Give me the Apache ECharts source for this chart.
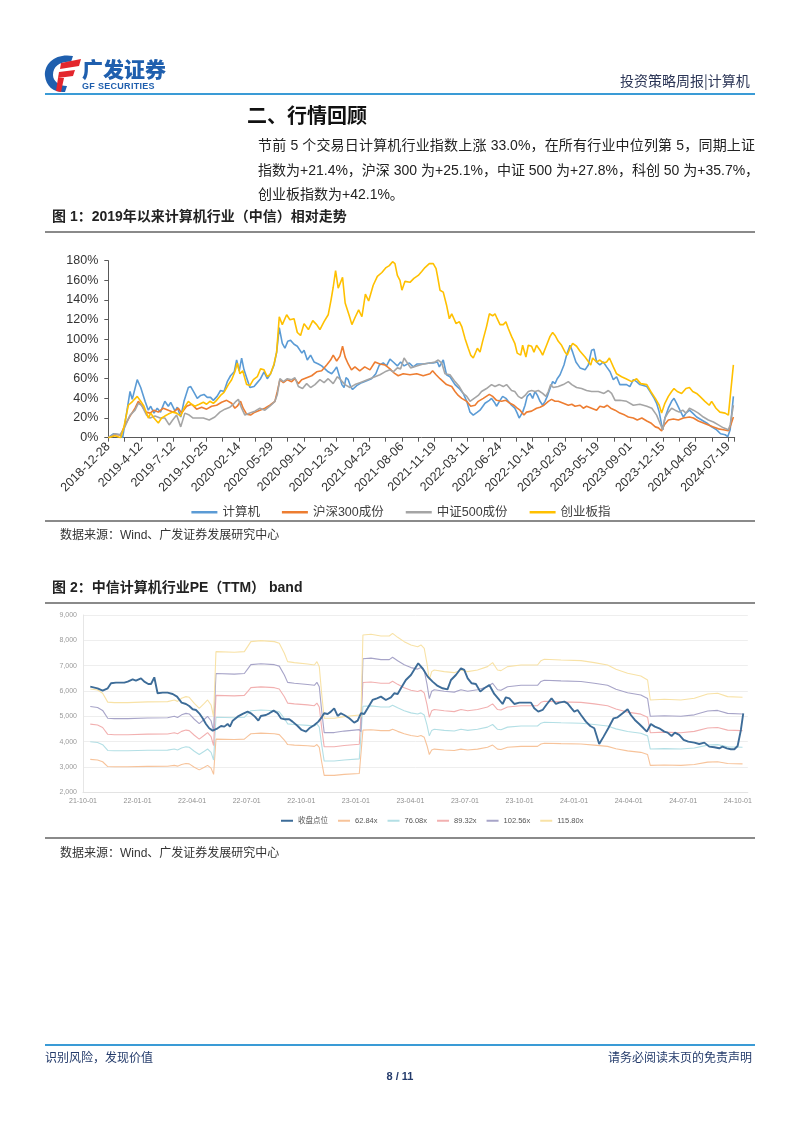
<!DOCTYPE html>
<html>
<head>
<meta charset="utf-8">
<script src="https://cdn.jsdelivr.net/npm/echarts@6/dist/echarts.min.js"></script>
<style>
  html, body { margin: 0; padding: 0; background: #fff; }
  #page { position: relative; width: 802px; height: 1133px; overflow: hidden; font-family: "Liberation Sans", "Noto Sans CJK SC", sans-serif; }
  #chart { position: absolute; left: 0; top: 0; width: 802px; height: 1133px; }
  .t { position: absolute; white-space: nowrap; z-index: 2; }
  .hr { position: absolute; z-index: 2; }
  .just { text-align: justify; text-align-last: justify; }
</style>
</head>
<body>
<div id="page">
  <div id="chart"></div>

  <!-- header -->
  <svg class="t" style="left:0;top:0" width="802" height="100">
    <path d="M73,56 C56,53 44,63 45,76 C46,87 55,93 65,92 L67,86 C59,86 53,81 53,75 C53,66 61,61 71,62 Z" fill="#1f5fae"/>
    <path d="M61,63 L81,59 L79,66 L60,69 Z" fill="#e3262d"/>
    <path d="M59,72 L75,70 L73,76 L58,78 Z" fill="#e3262d"/>
    <path d="M58,78 L64,78 L61,92 L56,91 Z" fill="#e3262d"/>
  </svg>
  <div class="t" style="left:82px;top:53px;font-size:21px;font-weight:900;color:#1f5fae;font-family:'Noto Sans CJK SC';">广发证券</div>
  <div class="t" style="left:82px;top:81px;font-size:9px;font-weight:700;color:#1f5fae;letter-spacing:0.3px;">GF SECURITIES</div>
  <div class="t" style="left:620px;top:70px;font-size:14px;color:#2b3556;font-family:'Noto Sans CJK SC';">投资策略周报|计算机</div>
  <div class="hr" style="left:45px;top:93px;width:710px;height:2px;background:#3a9bd6;"></div>

  <div class="t" style="left:247px;top:100px;font-size:20px;font-weight:700;color:#111;font-family:'Noto Sans CJK SC';">二、行情回顾</div>
  <div class="t just" style="left:258px;top:134px;width:497px;font-size:14px;color:#222;">节前 5 个交易日计算机行业指数上涨 33.0%，在所有行业中位列第 5，同期上证</div>
  <div class="t just" style="left:258px;top:159px;width:497px;font-size:14px;color:#222;">指数为+21.4%，沪深 300 为+25.1%，中证 500 为+27.8%，科创 50 为+35.7%，</div>
  <div class="t" style="left:258px;top:183px;font-size:14px;color:#222;">创业板指数为+42.1%。</div>

  <div class="t" style="left:52px;top:205px;font-size:14px;font-weight:700;color:#222;">图 1：2019年以来计算机行业（中信）相对走势</div>
  <div class="hr" style="left:45px;top:231px;width:710px;height:1.5px;background:#8a8a8a;"></div>
  <div class="hr" style="left:45px;top:520px;width:710px;height:1.5px;background:#8a8a8a;"></div>
  <div class="t" style="left:60px;top:525px;font-size:12px;color:#333;">数据来源：Wind、广发证券发展研究中心</div>

  <div class="t" style="left:52px;top:576px;font-size:14px;font-weight:700;color:#222;">图 2：中信计算机行业PE（TTM） band</div>
  <div class="hr" style="left:45px;top:602px;width:710px;height:1.5px;background:#8a8a8a;"></div>
  <div class="hr" style="left:45px;top:837px;width:710px;height:1.5px;background:#8a8a8a;"></div>
  <div class="t" style="left:60px;top:843px;font-size:12px;color:#333;">数据来源：Wind、广发证券发展研究中心</div>

  <!-- footer -->
  <div class="hr" style="left:45px;top:1044px;width:710px;height:2px;background:#3a9bd6;"></div>
  <div class="t" style="left:45px;top:1048px;font-size:12px;color:#243b6b;font-family:'Noto Sans CJK SC';">识别风险，发现价值</div>
  <div class="t" style="left:608px;top:1048px;font-size:12px;color:#243b6b;font-family:'Noto Sans CJK SC';">请务必阅读末页的免责声明</div>
  <div class="t" style="left:384px;top:1070px;width:32px;text-align:center;font-size:11px;font-weight:700;color:#243b6b;">8 / 11</div>
</div>

<script>
// ===== Figure 1 data: relative performance (%), x = week index since 2018-12-28 =====
const weekTickLabels = ['2018-12-28','2019-4-12','2019-7-12','2019-10-25','2020-02-14','2020-05-29','2020-09-11','2020-12-31','2021-04-23','2021-08-06','2021-11-19','2022-03-11','2022-06-24','2022-10-14','2023-02-03','2023-05-19','2023-09-01','2023-12-15','2024-04-05','2024-07-19'];
const perfNames = ['计算机','沪深300成份','中证500成份','创业板指'];
const computerIdx = [[0,0],[2.3,4],[5.4,3],[6.6,0],[10,47],[11,39],[13.3,59],[14.9,51],[16.9,37],[18.4,28],[19.5,32],[21,25],[22.5,30],[24,26],[26,37],[27.6,32],[28.7,36],[30.7,27],[31.7,31],[33.3,21],[34.8,37],[36.8,51],[37.9,52],[39.4,46],[40.9,40],[42.5,43],[44,44],[45.5,41],[47,41],[48.3,38],[50,42],[51.6,48],[53.2,47],[54.7,57],[56.2,63],[57.9,67],[59,79],[60.2,68],[61.3,81],[62.4,69],[63.6,61],[65.1,51],[67,52],[68.5,56],[70,60],[71.6,67],[73.1,60],[74.6,65],[76.2,74],[77.4,87],[78.6,112],[80,96],[81.2,91],[82.5,98],[83.8,99],[85.4,95],[86.9,93],[87.8,95],[89,86],[90,89],[91.5,79],[93,84],[94.6,77],[96.6,75],[98.1,73],[99.6,70],[101.1,67],[102.7,65],[103.8,68],[105,72],[106.2,63],[107.4,54],[108.4,51],[109.3,61],[110.3,59],[111.4,52],[112.3,49],[114.2,53],[116.5,56],[118.8,58],[121,60],[123,65],[124.6,74],[126.4,76],[127.9,73],[129.5,80],[131,77],[132.9,73],[134.4,77],[136,73],[138.4,76],[140.2,72],[142,75],[144.8,75],[147.9,76],[149.4,76],[151.3,77],[152.2,72],[154,79],[155.5,64],[157.1,62],[159.4,54],[161.4,50],[163.2,45],[164.8,37],[166.3,26],[167.8,23],[169.7,26],[170.9,28],[173.2,35],[175.2,38],[176.2,40],[177.8,35],[178.5,32],[180.1,38],[181.3,42],[182.8,40],[183.9,37],[185.4,33],[186.9,30],[188,25],[188.9,20],[190.5,26],[191.6,33],[192.6,42],[193.9,45],[195.1,40],[196.2,47],[197.3,43],[198.5,37],[199.7,33],[200.8,37],[201.8,42],[203.1,50],[204.3,57],[205.4,55],[206.4,60],[207.7,64],[209.5,74],[210.7,84],[212.3,94],[213.5,87],[215,77],[216.9,71],[219.2,69],[220.7,74],[222.2,89],[223.3,90],[224.5,77],[226,74],[227.6,77],[229.1,72],[230.7,67],[232.2,59],[233.7,62],[235.2,54],[238.3,54],[239.8,52],[241.4,59],[242.9,57],[244.4,54],[247.6,52],[249.1,47],[251,40],[252.1,35],[253.3,26],[254.4,13],[254.9,8],[255.9,20],[257.5,30],[259,37],[260.1,40],[261.3,35],[262.8,28],[264.4,21],[265.6,25],[267.2,28],[268.7,25],[270.5,21],[272.8,18],[275.1,15],[277.4,11],[279.7,8],[281.5,4],[283.6,3],[284.8,1],[285.9,8],[287.4,42]];
const hs300Idx = [[0,0],[3,3],[5.7,3],[7.7,13],[10,22],[12.3,30],[13.8,37],[15.3,33],[17.3,26],[19.2,25],[21,28],[23,26],[25.3,30],[27.6,28],[29.9,26],[32.2,30],[33.7,25],[36,32],[38.3,34],[40.6,29],[42.9,31],[45.2,29],[47.5,32],[49.8,33],[52.1,36],[54.4,38],[56.7,35],[58.2,30],[59.3,32],[60.8,37],[62,30],[63.6,24],[65.4,23],[67.4,26],[69.7,28],[72,30],[74.3,33],[76.6,37],[77.7,47],[78.9,59],[80.5,56],[82.3,59],[84.3,57],[85.8,60],[87.4,55],[88.9,59],[91.2,61],[93.5,63],[95.8,67],[98.1,68],[100.4,74],[102.2,79],[103.4,84],[105,78],[106.5,83],[107.7,93],[108.9,82],[110.3,75],[111.8,69],[113.4,72],[115.6,68],[117.9,72],[120.3,69],[122.6,77],[124.9,75],[127.2,74],[129.5,70],[131.3,66],[133.3,63],[135.6,65],[138.7,64],[141.8,65],[144.8,63],[147.9,65],[149.1,68],[150.7,64],[152.5,60],[154,57],[155.5,54],[157.9,52],[159.4,47],[160.9,43],[162.5,40],[164.8,37],[166.6,32],[168.6,33],[170.1,37],[172.4,40],[175.2,44],[176.7,42],[178.5,38],[180.8,37],[182.8,38],[184.7,35],[186.5,33],[188,30],[189.3,28],[191.1,23],[192.3,26],[194.6,27],[196.9,30],[198.5,31],[200.3,33],[202.3,37],[203.8,39],[205.4,37],[206.9,37],[209.2,35],[211.5,33],[213.1,34],[214.6,32],[216.9,33],[218.4,30],[219.9,32],[222.2,30],[224.5,28],[226,32],[227.9,31],[229.4,33],[231,30],[233,28],[235.2,25],[237.5,23],[239.1,21],[241.4,20],[243.2,18],[245.3,20],[247.6,17],[249.4,15],[251.5,11],[252.9,10],[254.4,7],[255.6,13],[257.5,18],[259.8,19],[262.1,18],[264.4,20],[267.2,21],[269,20],[271.3,17],[273.6,15],[275.9,13],[278.2,11],[280.5,9],[282.8,8],[285.1,7],[286.2,13],[287.4,21]];
const csi500Idx = [[0,0],[3,4],[5.4,3],[7.2,9],[10,23],[12.3,28],[13.8,35],[15.3,33],[17.6,23],[19.2,20],[21.5,22],[23.8,20],[26,20],[28,13],[29.6,18],[31.4,23],[33.3,11],[35.2,25],[37.2,23],[39,20],[41.4,20],[43.7,20],[46.4,18],[49,21],[51.3,26],[53.6,29],[55.9,31],[57.5,34],[58.7,37],[59.8,39],[61.3,30],[62.8,23],[65.1,25],[67.4,27],[69.7,30],[72,28],[74.3,32],[76.6,37],[77.7,44],[78.9,60],[80.5,57],[82.3,60],[84.3,59],[85.8,61],[87.4,52],[89.3,50],[91.2,55],[93,51],[95,54],[97.3,59],[99.2,56],[101.1,60],[103.4,55],[105.3,62],[106.8,59],[108.8,54],[111.1,51],[113.4,54],[115.7,56],[118,58],[120.3,60],[122.6,62],[124.9,64],[127.2,67],[129.5,69],[131,67],[132.9,71],[134.4,70],[136,81],[137.5,76],[139,71],[141.8,73],[144.8,75],[147.9,76],[150.2,77],[151.7,79],[153.3,76],[154.8,65],[157.1,64],[159.4,57],[161.4,52],[163.2,45],[164.8,42],[166.3,37],[168.2,40],[170.1,43],[171.6,47],[173.9,50],[176.2,54],[177.8,52],[179.8,54],[181.6,52],[183.1,54],[185.4,48],[186.9,47],[188.5,42],[190,40],[191.6,43],[193.1,47],[194.6,48],[196.2,47],[197.7,48],[199.7,45],[201.2,42],[202.3,47],[203.4,54],[204.6,51],[206.9,52],[209.2,54],[211.5,57],[213.1,54],[215.3,51],[217.6,50],[219.9,48],[222.2,47],[225.3,47],[227.9,45],[229.9,48],[231.4,45],[233,38],[235.2,38],[238.3,37],[241.4,33],[244.4,34],[247.6,32],[249.9,30],[252.1,23],[253.6,15],[254.9,8],[255.9,20],[257.5,26],[259,30],[260.6,28],[262.5,26],[264.1,28],[265.6,25],[267.2,30],[269,28],[271.3,25],[273.6,21],[275.9,18],[278.2,16],[280.5,13],[282.8,10],[285.1,8],[285.9,13],[287.4,33]];
const chinextIdx = [[0,0],[3,2],[5.7,0],[7.2,11],[9.2,33],[11.2,37],[13.3,42],[14.9,37],[16.4,32],[18.4,20],[19.5,25],[21,20],[23,15],[24.5,20],[26,22],[27.6,24],[29.6,26],[31.4,25],[33.3,22],[34.8,30],[36.8,37],[38.3,34],[39.8,32],[41.8,34],[43.7,36],[45.2,34],[46.7,37],[48.3,35],[49.8,38],[51.6,43],[53.2,46],[55.2,54],[56.7,59],[58.2,67],[59.3,76],[60.5,65],[61.8,68],[63.6,54],[65.1,53],[66.7,59],[68.5,62],[70,70],[71.6,69],[73.1,62],[74.6,65],[76.2,75],[77.4,87],[78.6,123],[80,115],[82,125],[83.5,120],[85.4,121],[86.9,107],[88.4,104],[90,116],[92,110],[94,119],[95.8,115],[97.3,110],[99.2,118],[101.1,125],[102.4,140],[103.4,153],[104.5,170],[105.7,152],[107.7,163],[108.9,137],[110.8,124],[112,115],[113.6,123],[115.1,130],[116.6,123],[118.2,146],[119.7,139],[121.8,155],[123.7,164],[125.8,168],[127.7,173],[129.2,175],[130.7,179],[131.8,177],[132.9,165],[134.1,160],[135,150],[136.4,159],[138.7,158],[140.5,162],[142.5,165],[144.1,169],[145.6,173],[147.6,177],[149.4,177],[150.7,172],[151.3,165],[152.5,150],[154,148],[155.5,135],[156.8,121],[157.9,126],[159.9,116],[161.4,118],[162.5,113],[164,101],[165.5,91],[166.6,84],[167.8,81],[169.7,91],[170.9,87],[172.1,98],[173.9,113],[175.2,126],[176.7,124],[177.8,126],[178.8,121],[180.1,115],[181.6,115],[182.8,118],[183.9,111],[185.4,103],[186.9,96],[188,86],[189.6,84],[190.5,94],[192,82],[193.1,94],[194.6,93],[195.7,87],[196.9,94],[198.5,89],[199.7,84],[201.5,94],[203.1,103],[204.3,107],[205.4,104],[206.9,98],[208.4,94],[210,87],[211,84],[212.3,91],[213.5,96],[215.3,93],[216.9,88],[219.2,82],[220.2,79],[221.8,74],[222.7,81],[224.5,77],[226,79],[227.6,76],[229.1,77],[230.4,81],[232.2,72],[233.7,65],[236,62],[238,60],[240.6,57],[242.9,60],[244.8,55],[247.6,54],[249.4,47],[251.5,40],[253.3,33],[254.4,25],[255.9,35],[257.5,42],[259,47],[260.1,50],[261.6,47],[263.6,45],[265.6,50],[267.2,51],[268.7,47],[270.5,45],[272,42],[274.3,37],[276.3,33],[277.4,37],[279.4,30],[281.2,26],[283.6,25],[285.1,23],[285.9,25],[287.4,74]];

// ===== Figure 2 data: PE band, x = months since 2021-10-01 =====
const peTickLabels = ['21-10-01','22-01-01','22-04-01','22-07-01','22-10-01','23-01-01','23-04-01','23-07-01','23-10-01','24-01-01','24-04-01','24-07-01','24-10-01'];
const bandNames = ['62.84x','76.08x','89.32x','102.56x','115.80x'];
const closeMonth = [[0.4,6172],[0.8,6106],[1.08,6014],[1.36,6106],[1.54,6303],[1.81,6330],[2.27,6330],[2.46,6369],[2.73,6461],[2.91,6409],[3.19,6500],[3.37,6369],[3.59,6277],[3.74,6277],[3.92,6540],[4.1,5909],[4.38,5935],[4.65,5935],[4.93,5882],[5.17,5777],[5.42,5540],[5.66,5487],[5.84,5408],[6.03,5277],[6.21,5250],[6.39,5119],[6.58,4921],[6.76,4698],[6.94,4527],[7.13,4435],[7.22,4461],[7.4,4527],[7.59,4619],[7.77,4593],[7.95,4698],[8.08,4593],[8.23,4829],[8.5,4987],[8.78,5093],[9.05,5185],[9.23,5119],[9.45,4987],[9.64,4829],[9.78,5014],[10.06,5053],[10.24,5119],[10.48,5224],[10.7,5119],[10.88,4921],[11.1,4882],[11.34,4882],[11.52,4790],[11.8,4619],[12.02,4461],[12.26,4395],[12.44,4527],[12.72,4658],[12.94,4790],[13.12,4961],[13.26,5119],[13.45,5093],[13.63,5185],[13.81,5316],[14,5014],[14.18,5119],[14.36,5053],[14.64,4921],[14.91,4750],[15.1,4829],[15.28,5119],[15.46,5093],[15.65,5316],[15.92,5645],[16.16,5711],[16.38,5777],[16.65,5645],[16.93,5751],[17.11,5909],[17.3,5882],[17.48,6106],[17.75,6435],[18.03,6632],[18.43,7093],[18.67,6896],[18.95,6567],[19.22,6369],[19.5,6198],[19.77,6106],[20.04,6066],[20.23,6435],[20.5,6632],[20.78,6896],[20.96,6830],[21.15,6500],[21.37,6303],[21.6,6277],[21.84,5974],[22.06,6106],[22.34,6238],[22.61,5882],[22.89,5645],[23.07,5487],[23.25,5751],[23.44,5711],[23.71,5487],[23.99,5540],[24.26,5540],[24.63,5540],[24.81,5316],[25.03,5185],[25.27,5250],[25.51,5487],[25.76,5711],[26,5487],[26.18,5540],[26.46,5580],[26.64,5514],[26.86,5316],[27.01,5185],[27.19,5250],[27.38,5053],[27.65,4790],[27.89,4619],[28.11,4527],[28.38,3908],[28.62,4198],[28.88,4527],[29.17,4921],[29.39,4961],[29.67,5119],[29.94,5277],[30.12,5053],[30.34,4856],[30.58,4698],[30.82,4527],[31,4395],[31.22,4698],[31.44,4593],[31.68,4527],[31.96,4395],[32.14,4356],[32.36,4224],[32.54,4356],[32.78,4264],[33.02,4066],[33.28,4000],[33.61,3961],[33.88,3908],[34.16,3961],[34.43,3803],[34.71,3777],[34.98,3737],[35.16,3803],[35.4,3737],[35.62,3698],[35.81,3698],[35.99,3829],[36.17,4461],[36.3,5119]];
const bandMonth = [0.4,0.8,1.08,1.36,1.72,2.46,3.55,4.65,5.02,5.2,5.42,5.66,5.84,6.12,6.39,6.67,6.85,7.04,7.18,7.31,8.32,8.87,9.05,9.23,9.78,10.52,10.79,11.07,11.25,11.62,12.35,12.72,12.86,12.99,13.12,13.26,13.81,14.36,15.19,15.28,15.39,15.83,16.38,16.84,17.02,17.3,17.66,18.03,18.4,18.58,18.76,18.91,19.04,19.17,19.31,19.86,20.41,20.78,21.15,21.69,22.24,22.52,22.79,22.98,23.34,24.08,24.99,25.18,25.36,26.28,27.38,28.11,28.84,29.3,29.94,30.67,31.04,31.19,31.26,31.96,32.87,33.61,34.34,34.89,35.44,36.26];
const band115 = [6080,6040,5909,5560,5540,5540,5570,5580,5645,5590,5711,5777,5751,5514,5316,5514,5645,5448,4987,7553,7527,7553,7750,7948,7988,7948,7882,7487,7159,7119,7067,7027,7159,6961,5909,4921,4921,4987,5053,4961,8211,8238,8172,8172,8277,8119,7948,7817,7750,7817,7685,7093,6435,6764,6830,6764,6724,6830,6764,6830,6961,7119,6830,6804,6961,7027,7027,7198,7251,7224,7198,7119,7027,6856,6698,6593,6435,5645,5711,5672,5645,5711,5882,5909,5777,5751];
const band102 = [5385,5349,5233,4924,4907,4907,4933,4942,5000,4951,5058,5116,5093,4884,4708,4884,5000,4825,4417,6689,6666,6689,6864,7039,7075,7039,6981,6631,6340,6305,6259,6224,6340,6165,5233,4358,4358,4417,4475,4394,7272,7296,7238,7238,7331,7191,7039,6923,6864,6923,6806,6282,5699,5991,6049,5991,5955,6049,5991,6049,6165,6305,6049,6026,6165,6224,6224,6375,6422,6398,6375,6305,6224,6072,5932,5839,5699,5000,5058,5023,5000,5058,5209,5233,5116,5093];
const band89 = [4690,4659,4558,4289,4273,4273,4296,4304,4354,4312,4405,4456,4436,4253,4100,4253,4354,4202,3847,5826,5806,5826,5978,6131,6161,6131,6080,5775,5522,5491,5451,5420,5522,5369,4558,3796,3796,3847,3898,3827,6333,6354,6303,6303,6384,6262,6131,6030,5978,6030,5928,5471,4964,5217,5268,5217,5186,5268,5217,5268,5369,5491,5268,5248,5369,5420,5420,5552,5593,5572,5552,5491,5420,5288,5166,5085,4964,4354,4405,4375,4354,4405,4537,4558,4456,4436];
const band76 = [3995,3968,3882,3653,3640,3640,3659,3666,3709,3673,3752,3795,3778,3623,3493,3623,3709,3579,3276,4962,4945,4962,5092,5222,5248,5222,5178,4919,4703,4677,4643,4617,4703,4573,3882,3233,3233,3276,3320,3259,5395,5412,5369,5369,5438,5334,5222,5136,5092,5136,5049,4660,4228,4444,4487,4444,4418,4487,4444,4487,4573,4677,4487,4470,4573,4617,4617,4729,4764,4746,4729,4677,4617,4504,4401,4332,4228,3709,3752,3726,3709,3752,3864,3882,3795,3778];
const band62 = [3299,3278,3207,3017,3006,3006,3023,3028,3063,3033,3099,3135,3121,2992,2885,2992,3063,2956,2706,4099,4085,4099,4206,4313,4335,4313,4277,4063,3885,3863,3835,3813,3885,3777,3207,2670,2670,2706,2742,2692,4456,4470,4435,4435,4492,4406,4313,4242,4206,4242,4170,3849,3492,3671,3706,3671,3649,3706,3671,3706,3777,3863,3706,3692,3777,3813,3813,3906,3935,3920,3906,3863,3813,3720,3635,3578,3492,3063,3099,3078,3063,3099,3192,3207,3135,3121];

// ===== build =====
const perfColors = ['#5b9bd5','#ed7d31','#a5a5a5','#ffc000'];
const perfData = [computerIdx, hs300Idx, csi500Idx, chinextIdx];
const bandColors = ['#f7c39a','#b3dfe5','#f2b0b0','#a7a4c8','#f8e2a6'];
const bandValues = [band62, band76, band89, band102, band115];

const series = [];
perfNames.forEach((n, k) => {
  series.push({
    name: n, type: 'line', xAxisIndex: 0, yAxisIndex: 0,
    data: perfData[k], showSymbol: false, symbol: 'none',
    lineStyle: { width: 1.6, color: perfColors[k] }, itemStyle: { color: perfColors[k] }
  });
});
bandNames.forEach((n, k) => {
  series.push({
    name: n, type: 'line', xAxisIndex: 1, yAxisIndex: 1,
    data: bandMonth.map((m, j) => [m, bandValues[k][j]]), showSymbol: false, symbol: 'none',
    lineStyle: { width: 1.1, color: bandColors[k] }, itemStyle: { color: bandColors[k] }
  });
});
series.push({
  name: '收盘点位', type: 'line', xAxisIndex: 1, yAxisIndex: 1,
  data: closeMonth, showSymbol: false, symbol: 'none', z: 5,
  lineStyle: { width: 1.9, color: '#3d6c98' }, itemStyle: { color: '#3d6c98' }
});

const chart = echarts.init(document.getElementById('chart'), null, { renderer: 'canvas' });
chart.setOption({
  animation: false,
  backgroundColor: 'transparent',
  textStyle: { fontFamily: 'Liberation Sans, Noto Sans CJK SC, sans-serif' },
  grid: [
    { left: 108.3, top: 260.7, width: 626.4, height: 177, containLabel: false },
    { left: 83, top: 615, width: 664.8, height: 177.3, containLabel: false }
  ],
  xAxis: [
    {
      type: 'value', gridIndex: 0, min: 0, max: 288, interval: 15,
      axisLine: { show: true, lineStyle: { color: '#595959', width: 1 } },
      axisTick: { show: true, length: 4, lineStyle: { color: '#595959' } },
      minorTick: { show: true, splitNumber: 2, length: 4, lineStyle: { color: '#595959' } },
      splitLine: { show: false },
      axisLabel: {
        rotate: 45, margin: 7, fontSize: 12.5, color: '#333',
        fontFamily: 'Liberation Sans',
        formatter: v => { const k = Math.round(v / 15); return (Math.abs(v - k * 15) < 1e-6 && k < weekTickLabels.length) ? weekTickLabels[k] : ''; }
      }
    },
    {
      type: 'value', gridIndex: 1, min: 0, max: 36.55, interval: 3,
      axisLine: { show: true, lineStyle: { color: '#e3e3e3', width: 1 } },
      axisTick: { show: false },
      splitLine: { show: false },
      axisLabel: {
        margin: 5, fontSize: 7, color: '#8f8f8f', fontFamily: 'Liberation Sans',
        formatter: v => { const k = Math.round(v / 3); return (Math.abs(v - k * 3) < 1e-6 && k < peTickLabels.length) ? peTickLabels[k] : ''; }
      }
    }
  ],
  yAxis: [
    {
      type: 'value', gridIndex: 0, min: 0, max: 180, interval: 20,
      axisLine: { show: true, lineStyle: { color: '#595959', width: 1 } },
      axisTick: { show: true, length: 4, lineStyle: { color: '#595959' } },
      splitLine: { show: false },
      axisLabel: { margin: 10, fontSize: 12.5, color: '#333', fontFamily: 'Liberation Sans', formatter: '{value}%' }
    },
    {
      type: 'value', gridIndex: 1, min: 2000, max: 9000, interval: 1000,
      axisLine: { show: true, lineStyle: { color: '#e6e6e6', width: 1 } },
      axisTick: { show: false },
      splitLine: { show: true, lineStyle: { color: '#eeeeee', width: 1 } },
      axisLabel: { margin: 6, fontSize: 7, color: '#9a9a9a', fontFamily: 'Liberation Sans',
        formatter: v => v.toLocaleString('en-US') }
    }
  ],
  legend: [
    {
      data: perfNames, top: 501, left: 'center',
      icon: 'rect', itemWidth: 26, itemHeight: 2.5, itemGap: 22,
      textStyle: { fontSize: 12.5, color: '#404040', fontFamily: 'Liberation Sans, Noto Sans CJK SC' }
    },
    {
      data: ['收盘点位'].concat(bandNames), top: 812, left: 276,
      icon: 'rect', itemWidth: 12, itemHeight: 2, itemGap: 10,
      textStyle: { fontSize: 7.5, color: '#555', fontFamily: 'Liberation Sans, Noto Sans CJK SC' }
    }
  ],
  series: series
});
</script>
</body>
</html>
